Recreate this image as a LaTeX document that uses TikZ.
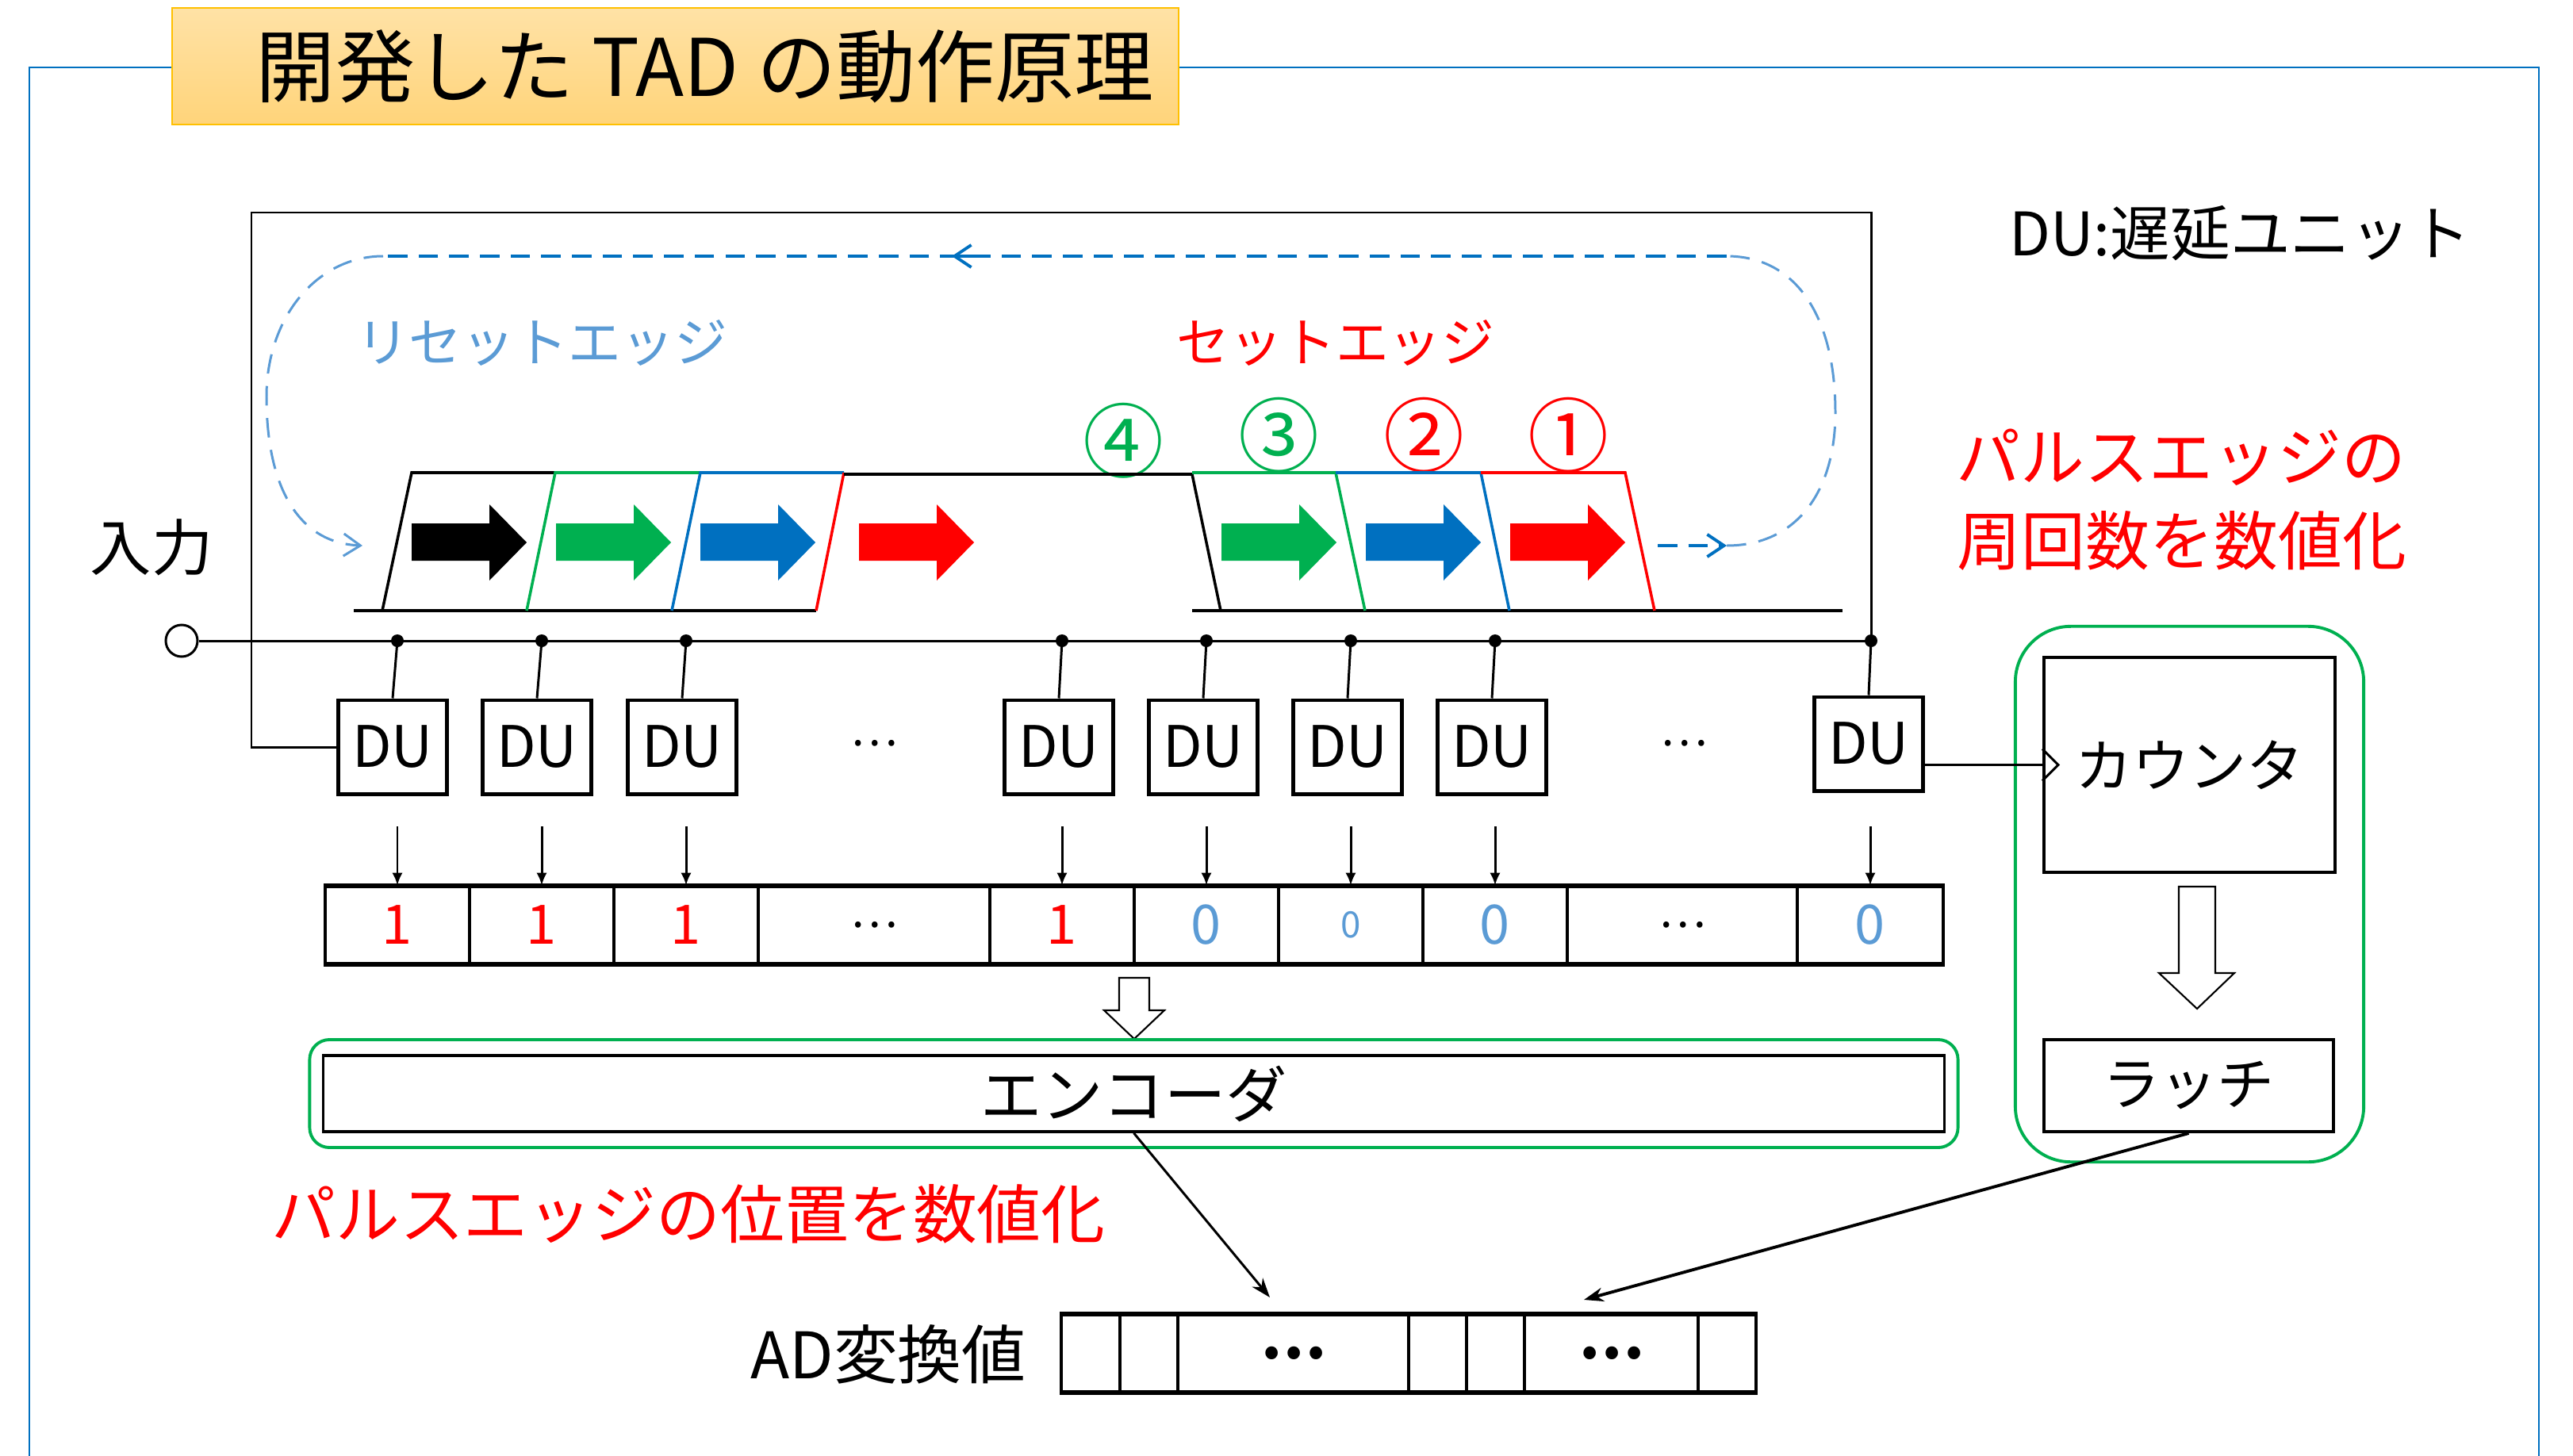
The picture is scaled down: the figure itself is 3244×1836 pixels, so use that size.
\documentclass[tikz,border=0pt]{standalone}
\usepackage{fontspec}
\setmainfont{Noto Sans CJK JP}
\usetikzlibrary{arrows.meta,calc}
\definecolor{tblue}{RGB}{0,112,192}
\definecolor{lblue}{RGB}{91,155,213}
\definecolor{tgreen}{RGB}{0,176,80}
\definecolor{tred}{RGB}{255,0,0}
\definecolor{tfillA}{RGB}{255,226,166}
\definecolor{tfillB}{RGB}{255,212,122}
\definecolor{tborder}{RGB}{255,192,0}
\newcommand\fz[1]{\fontsize{#1pt}{#1pt}\selectfont}
\newcommand\Ra{\textcolor{tred}{1}}
\newcommand\Zb{\textcolor{lblue}{0}}
\newcommand\Zs{\textcolor{lblue}{\fz{13}0}}
\newcommand\Dt{{\fz{16}…}}
\newcommand\Db{{\fz{21}\bfseries …}}
\tikzset{
  txt/.style={inner sep=0pt, font=\fz{#1}},
  du/.style={draw, line width=1.4pt, minimum width=1.37cm, minimum height=1.18cm, inner sep=0pt, font=\fz{20.5}},
  cell/.style={draw, line width=0.9pt, minimum height=0.97cm, inner sep=0pt, font=\fz{19.5}},
  wire/.style={line width=0.85pt},
  darr/.style={line width=0.85pt, -{Latex[length=4.5pt,width=3.8pt]}},
  barb/.style={-{Straight Barb[length=6pt,width=8pt]}},
  pulse/.style={line width=1pt},
  hollow/.style={line width=0.6pt, fill=white},
  jdot/.style={circle, fill, inner sep=0pt, minimum size=0.16cm}
}
\begin{document}
\begin{tikzpicture}[x=0.01cm,y=-0.01cm]
\fill[white] (0,0) rectangle (3244,1836);
\useasboundingbox (0,0) rectangle (3244,1836);
% outer frame
\draw[tblue, line width=0.8pt] (37,1836) -- (37,85) -- (3201,85) -- (3201,1836);
% title
\node[draw=tborder, line width=0.6pt, top color=tfillA, bottom color=tfillB, minimum width=12.69cm, minimum height=1.47cm, inner sep=0pt] (titlebox) at (851.5,83.5) {};
\node[txt=28.5] (title) at (889,84) {開発した TAD の動作原理};

% legend and annotations
\node[txt=21.5] (dul) at (2824,294) {DU:遅延ユニット};
\node[txt=23, text=tred] (cntA) at (2750,577) {パルスエッジの};
\node[txt=23, text=tred] (cntB) at (2751,682) {周回数を数値化};
\node[txt=19, text=lblue] (rst) at (683,432) {リセットエッジ};
\node[txt=19, text=tred] (set) at (1684,432) {セットエッジ};
\node[txt=22] (inl) at (191,690) {入力};
\node[txt=29, text=tgreen] (n4) at (1416,556) {④};
\node[txt=29, text=tgreen] (n3) at (1612,549) {③};
\node[txt=29, text=tred] (n2) at (1795,549) {②};
\node[txt=29, text=tred] (n1) at (1977,549) {①};

% dashed loop
\draw[lblue, line width=0.85pt, dash pattern=on 7pt off 4.5pt, barb]
  (483,323) .. controls (400,323) and (336,400) .. (336,500)
  .. controls (336,620) and (380,685) .. (457,688);
\draw[lblue, line width=0.85pt, dash pattern=on 7pt off 4.5pt]
  (2177,688) .. controls (2265,688) and (2314,620) .. (2314,520)
  .. controls (2314,400) and (2265,323) .. (2177,323);
\draw[tblue, line width=1.1pt, dash pattern=on 7pt off 4pt] (2177,323) -- (483,323);
\draw[tblue, line width=1.1pt, barb] (1240,323) -- (1200,323);
\draw[tblue, line width=1.1pt, dash pattern=on 7pt off 4pt, barb] (2090,688) -- (2177,688);

% pulse waveform, left part
\draw[pulse] (446,770) -- (1029,770);
\draw[pulse] (482,770) -- (519,596) -- (700,596);
\draw[pulse, tgreen] (664,770) -- (700,596) -- (883,596);
\draw[pulse, tblue] (847,770) -- (883,596) -- (1064,596);
\draw[pulse, tred] (1029,770) -- (1064,596);
\draw[pulse] (1064,598) -- (1503,598);
% right part
\draw[pulse] (1503,770) -- (2323,770);
\draw[pulse] (1503,598) -- (1539,770);
\draw[pulse, tgreen] (1503,596) -- (1684,596) -- (1721,770);
\draw[pulse, tblue] (1684,596) -- (1867,596) -- (1903,770);
\draw[pulse, tred] (1867,596) -- (2049,596) -- (2086,770);
% block arrows
\foreach \xl/\col in {519/black, 701/tgreen, 883/tblue, 1083/tred, 1540/tgreen, 1722/tblue, 1904/tred}{
  \fill[\col] (\xl,660) -- ({\xl+98},660) -- ({\xl+98},636) -- ({\xl+145},684)
    -- ({\xl+98},732) -- ({\xl+98},707) -- (\xl,707) -- cycle;
}

% input and bus
\node[circle, draw, line width=0.85pt, minimum size=0.4cm, inner sep=0pt] (inp) at (229,808) {};
\foreach \ni/\xx in {1/501, 2/683, 3/865, 4/1339, 5/1521, 6/1703, 7/1885, 8/2359}
  \node[jdot] (j\ni) at (\xx,808) {};
% DU boxes
\foreach \ni/\xx in {1/495, 2/677, 3/860, 4/1335, 5/1517, 6/1699, 7/1881}
  \node[du] (du\ni) at (\xx,942) {DU};
\node[du] (du8) at (2356,938) {DU};
\node[txt=16] (e1) at (1102,937) {…};
\node[txt=16] (e2) at (2123,937) {…};
\draw[wire] (inp.east) -- (j8.center);
\draw[wire] (du1.west) -| (317,268) -| (j8.center);
\foreach \ni in {1,...,8} \draw[wire] (j\ni.center) -- (du\ni.north);

% register row
\foreach \ni/\xa/\xb/\tx in {1/410/592/\Ra, 2/592/774/\Ra, 3/774/956/\Ra, 4/956/1248/\Dt, 5/1248/1430/\Ra,
   6/1430/1612/\Zb, 7/1612/1794/\Zs, 8/1794/1976/\Zb, 9/1976/2266/\Dt, 10/2266/2450/\Zb}{
  \pgfmathsetmacro\ww{(\xb-\xa)/100}
  \pgfmathsetmacro\xc{(\xa+\xb)/2}
  \node[cell, minimum width=\ww cm] (r\ni) at (\xc,1166.5) {\tx};
}
\draw[line width=1.4pt] (r1.north west) -- (r10.north east);
\draw[line width=1.4pt] (r1.south west) -- (r10.south east);
\coordinate (arow) at (0,1042);
\foreach \ni/\ri in {1/1, 2/2, 3/3, 4/5, 5/6, 6/7, 7/8, 8/10}
  \draw[darr] (r\ri.north |- arow) -- (r\ri.north);

% hollow arrow register -> encoder
\draw[hollow] (1411,1233) -- (1449,1233) -- (1449,1274) -- (1468,1274) -- (1430,1310)
  -- (1392,1274) -- (1411,1274) -- cycle;

% encoder
\node[draw=tgreen, line width=1.1pt, rounded corners=0.25cm, minimum width=20.77cm, minimum height=1.36cm, inner sep=0pt] (encg) at (1429.5,1379) {};
\node[draw, line width=1pt, minimum width=20.43cm, minimum height=0.96cm, txt=22] (enc) at (1429.5,1379) {エンコーダ};
\node[txt=23, text=tred] (posq) at (868,1531) {パルスエッジの位置を数値化};

% counter group
\node[draw=tgreen, line width=1.1pt, rounded corners=0.7cm, minimum width=4.39cm, minimum height=6.75cm, inner sep=0pt] (cgrp) at (2760.5,1127.5) {};
\node[draw, line width=1.1pt, minimum width=3.67cm, minimum height=2.71cm, txt=20.5] (cnt) at (2760.5,964.5) {カウンタ};
\node[draw, line width=1.1pt, minimum width=3.65cm, minimum height=1.16cm, txt=20.5] (latch) at (2759.5,1369) {ラッチ};
\draw[wire] ($(cnt.west)+(0,-20)$) -- ++(20,20) -- ++(-20,20);
\draw[wire] (du8.east |- cnt.west) -- (cnt.west);
\draw[hollow] (2747,1118) -- (2793,1118) -- (2793,1227) -- (2817,1227) -- (2770,1272)
  -- (2722,1227) -- (2747,1227) -- cycle;

% AD value register
\foreach \ni/\xa/\xb/\tx in {1/1338/1412/{}, 2/1412/1485/{}, 3/1485/1776/\Db, 4/1776/1849/{},
   5/1849/1922/{}, 6/1922/2141/\Db, 7/2141/2214/{}}{
  \pgfmathsetmacro\ww{(\xb-\xa)/100}
  \pgfmathsetmacro\xc{(\xa+\xb)/2}
  \node[cell, minimum width=\ww cm] (a\ni) at (\xc,1706.5) {\tx};
}
\draw[line width=1.4pt] (a1.north west) -- (a7.north east);
\draw[line width=1.4pt] (a1.south west) -- (a7.south east);
\node[txt=23] (adl) at (1120,1708) {AD変換値};
\coordinate (adinA) at (1601,1636);
\coordinate (adinB) at (1997,1639);
\draw[line width=0.85pt, -{Stealth[length=7pt,width=5pt]}] (enc.south) -- (adinA);
\draw[line width=1.1pt, -{Stealth[length=7pt,width=5pt]}] (latch.south) -- (adinB);
\end{tikzpicture}
\end{document}
